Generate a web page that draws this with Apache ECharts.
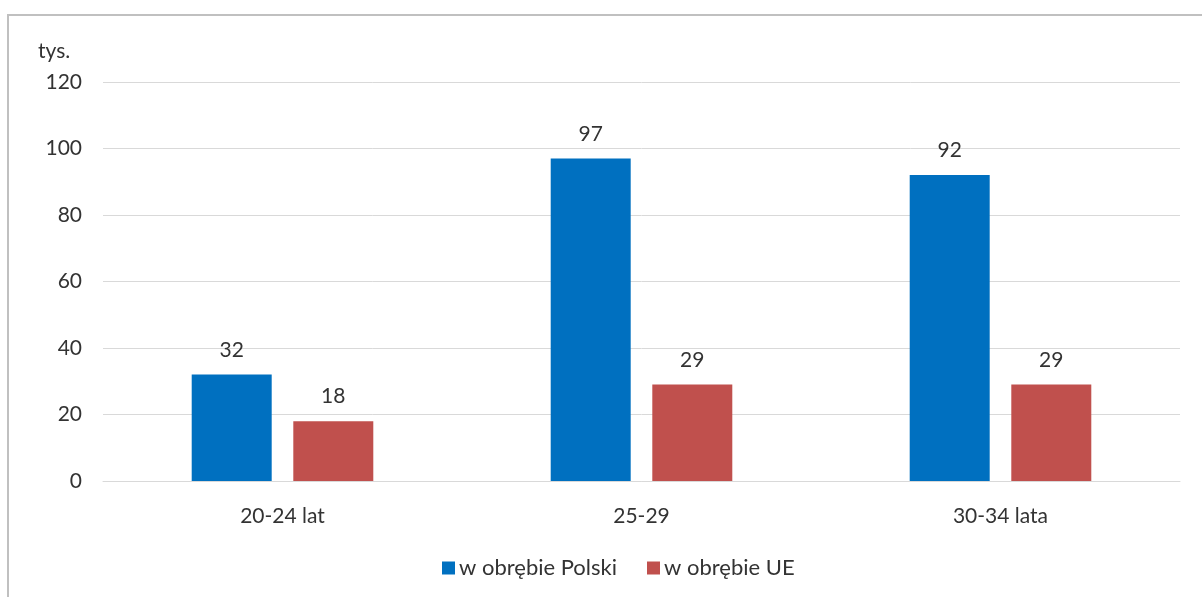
<!DOCTYPE html>
<html>
<head>
    <meta charset="utf-8">
    <title>tys.</title>
    <script src="https://cdn.jsdelivr.net/npm/echarts@6/dist/echarts.min.js"></script>
    <style>
        html, body {margin: 0; padding: 0; background: #fff;}
        #main {width: 1202px; height: 597px;}
    </style>
</head>
<body>
<div id="main"></div>
<script>
    // dane
    var categories = ['20-24 lat', '25-29', '30-34 lata'];
    var polska = [32, 97, 92];
    var ue = [18, 29, 29];
    var yTicks = [0, 20, 40, 60, 80, 100, 120];

    var font = 'Lato, "Open Sans", sans-serif';
    var txt = '#333333';
    var chart = echarts.init(document.getElementById('main'));

    chart.setOption({
        animation: false,
        textStyle: {fontFamily: font},
        graphic: [
            {
                // ramka wykresu
                type: 'rect',
                shape: {x: 8, y: 15, width: 1300, height: 700},
                style: {fill: 'none', stroke: '#c0c0c0', lineWidth: 2}
            },
            {
                type: 'text',
                left: 38,
                top: 41,
                style: {text: 'tys.', fontSize: 21, fontFamily: font, fill: txt}
            }
        ],
        grid: {left: 103, right: 22, top: 82, bottom: 116},
        legend: {
            left: 437,
            top: 552,
            itemWidth: 13,
            itemHeight: 13,
            itemGap: 30,
            icon: 'rect',
            textStyle: {fontSize: 22, color: txt, fontFamily: font, padding: [0, 0, 0, -1]},
            data: ['w obrębie Polski', 'w obrębie UE']
        },
        xAxis: {
            type: 'category',
            data: categories,
            axisLine: {lineStyle: {color: '#d9d9d9'}},
            axisTick: {show: false},
            axisLabel: {fontSize: 21, color: txt, margin: 25}
        },
        yAxis: {
            type: 'value',
            min: yTicks[0],
            max: yTicks[yTicks.length - 1],
            interval: 20,
            axisLine: {show: false},
            axisTick: {show: false},
            axisLabel: {fontSize: 21, color: txt, margin: 21},
            splitLine: {lineStyle: {color: '#d9d9d9'}}
        },
        series: [
            {
                name: 'w obrębie Polski',
                type: 'bar',
                data: polska,
                barWidth: 80,
                barGap: '27%',
                itemStyle: {color: '#0070c0'},
                label: {show: true, position: 'top', distance: 14, fontSize: 21, color: txt}
            },
            {
                name: 'w obrębie UE',
                type: 'bar',
                data: ue,
                barWidth: 80,
                itemStyle: {color: '#c0504d'},
                label: {show: true, position: 'top', distance: 14, fontSize: 21, color: txt}
            }
        ]
    });
</script>
</body>
</html>
